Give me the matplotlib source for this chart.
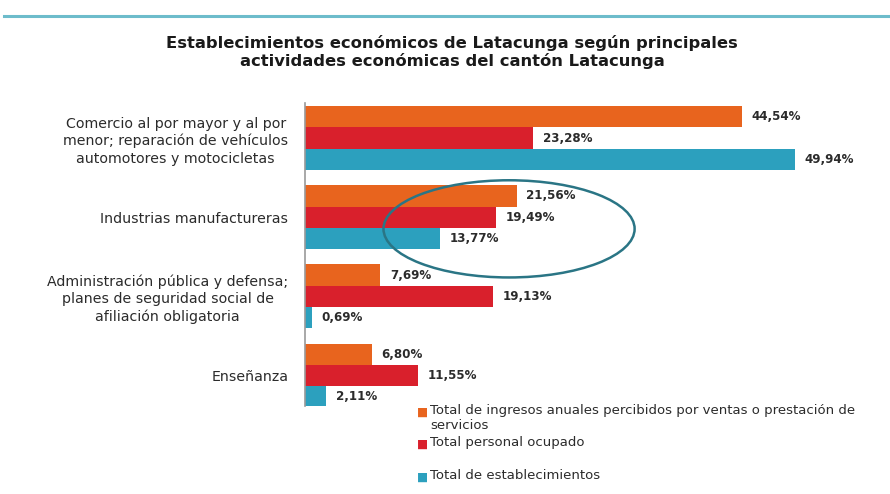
import matplotlib.pyplot as plt
import numpy as np
from matplotlib.patches import Ellipse

CATEGORIES = [
    "Comercio al por mayor y al por\nmenor; reparación de vehículos\nautomotores y motocicletas",
    "Industrias manufactureras",
    "Administración pública y defensa;\nplanes de seguridad social de\nafiliación obligatoria",
    "Enseñanza",
]
INGRESOS = [44.54, 21.56, 7.69, 6.80]
PERSONAL = [23.28, 19.49, 19.13, 11.55]
ESTABLEC = [49.94, 13.77, 0.69, 2.11]
SERIES = [
    ("Total de ingresos anuales percibidos por ventas o prestación de\nservicios", INGRESOS),
    ("Total personal ocupado", PERSONAL),
    ("Total de establecimientos", ESTABLEC),
]
TITLE = ("Establecimientos económicos de Latacunga según principales\n"
         "actividades económicas del cantón Latacunga")

COLORS = ["#E8641E", "#D9202C", "#2CA0BE"]
INK = "#2B2B2B"

plt.rcParams["font.family"] = ["DejaVu Sans"]

fig = plt.figure(figsize=(8.9, 4.94), dpi=100)
fig.patch.set_facecolor("white")

# teal rule at the top
fig.add_artist(plt.Line2D([0.005, 1.0], [1 - 16 / 494, 1 - 16 / 494],
                          color="#6DBCCB", lw=2.2, transform=fig.transFigure))

fig.text(0.508, 1 - 52 / 494, TITLE, ha="center", va="center",
         fontsize=11.8, weight="bold", color="#1A1A1A", linespacing=1.2)

ax = fig.add_axes([305 / 890, 1 - 406 / 494, 555 / 890, 303 / 494])
y = np.arange(len(CATEGORIES))
h = 0.266
for k, ((label, vals), col) in enumerate(zip(SERIES, COLORS)):
    pos = y + (k - 1) * h
    ax.barh(pos, vals, height=h, color=col, linewidth=0)
    for p, v in zip(pos, vals):
        ax.text(v + 1.0, p, f"{v:.2f}%".replace(".", ","), va="center",
                ha="left", fontsize=8.6, weight="bold", color=INK)

ax.set_xlim(0, 555 / 9.81)
ax.set_ylim(3.392, -0.443)
ax.set_yticks(y)
ax.set_yticklabels(CATEGORIES, fontsize=10.2, color=INK, multialignment="center",
                   linespacing=1.3)
ax.tick_params(axis="y", length=0, pad=12)
ax.set_xticks([])
for s in ("top", "right", "bottom"):
    ax.spines[s].set_visible(False)
ax.spines["left"].set_color("#9A9A9A")
ax.spines["left"].set_linewidth(1.2)

# highlight around Industrias manufactureras
ax.add_patch(Ellipse((20.8, 1.15), 25.6, 1.23, fill=False,
                     edgecolor="#2A7585", lw=1.8, clip_on=False))

# legend
leg_y = [412, 444, 477]
for (label, _), col, ly in zip(SERIES, COLORS, leg_y):
    fig.text(417 / 890, 1 - ly / 494, "■", color=col, fontsize=8.5,
             va="center", ha="left")
    fig.text(430 / 890, 1 - (ly - 8) / 494, label, color=INK, fontsize=9.5,
             va="top", ha="left", linespacing=1.2)

fig.savefig("out.png", dpi=100)
